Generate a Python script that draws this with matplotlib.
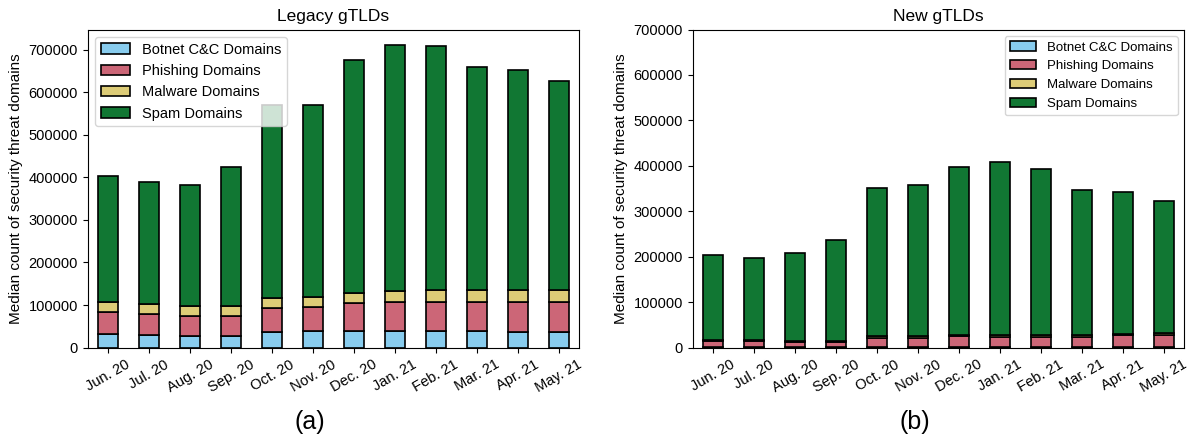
import numpy as np
import matplotlib.pyplot as plt

plt.rcParams['font.family'] = ['Liberation Sans', 'DejaVu Sans']

months = ['Jun. 20', 'Jul. 20', 'Aug. 20', 'Sep. 20', 'Oct. 20', 'Nov. 20',
          'Dec. 20', 'Jan. 21', 'Feb. 21', 'Mar. 21', 'Apr. 21', 'May. 21']
labels = ['Botnet C&C Domains', 'Phishing Domains', 'Malware Domains', 'Spam Domains']
colors = ['#88CCEE', '#CC6677', '#DDCC77', '#117733']

# Legacy gTLDs
legacy_botnet = [33000, 30000, 27500, 28000, 37500, 38500, 40000, 40000, 40000, 39000, 37500, 37500]
legacy_phishing = [51500, 50000, 47500, 47000, 56500, 57000, 65500, 68000, 68000, 68500, 70000, 70000]
legacy_malware = [23500, 23000, 23500, 23500, 23000, 23500, 24000, 25500, 27000, 27500, 27500, 27500]
legacy_total = [404000, 390000, 381000, 424000, 570000, 570000, 676000, 710000, 708000, 659000, 653000, 626000]

# New gTLDs
new_botnet = [1500, 1500, 1200, 1200, 1800, 1800, 2000, 2000, 2000, 2000, 2200, 2200]
new_phishing = [13000, 12500, 11500, 11500, 19500, 19500, 23000, 22500, 22500, 22500, 25000, 25000]
new_malware = [3000, 3000, 3000, 3000, 3500, 3500, 3500, 3500, 3500, 3500, 3500, 4000]
new_total = [203000, 198000, 208000, 236000, 352000, 359000, 398000, 409000, 394000, 346000, 343000, 323000]


def stacked(ax, botnet, phishing, malware, total):
    spam = np.array(total) - np.array(botnet) - np.array(phishing) - np.array(malware)
    x = np.arange(len(months))
    bottom = np.zeros(len(months))
    for vals, lab, col in zip([botnet, phishing, malware, spam], labels, colors):
        ax.bar(x, vals, 0.5, bottom=bottom, color=col, edgecolor='black',
               linewidth=1.2, label=lab)
        bottom += np.array(vals)
    ax.set_xlim(-0.5, len(months) - 0.5)
    ax.set_xticks(x)
    ax.set_xticklabels(months, rotation=30, fontsize=10.5)
    ax.tick_params(axis='y', labelsize=10.5)
    ax.set_yticks(np.arange(0, 700001, 100000))
    ax.set_ylabel('Median count of security threat domains', fontsize=11)


fig = plt.figure(figsize=(11.91, 4.45), dpi=100)
ax1 = fig.add_axes([0.0736, 0.2187, 0.4128, 0.715])
ax2 = fig.add_axes([0.5816, 0.2187, 0.4128, 0.715])

stacked(ax1, legacy_botnet, legacy_phishing, legacy_malware, legacy_total)
ax1.set_ylim(0, 747000)
ax1.set_title('Legacy gTLDs', fontsize=12.5)
ax1.legend(loc='upper left', fontsize=10.5)

stacked(ax2, new_botnet, new_phishing, new_malware, new_total)
ax2.set_ylim(0, 700000)
ax2.set_title('New gTLDs', fontsize=12.5)
ax2.legend(loc='upper right', fontsize=9.5)

fig.text(0.26, 0.035, '(a)', fontsize=18, ha='center')
fig.text(0.768, 0.035, '(b)', fontsize=18, ha='center')

fig.savefig('out.png', dpi=100)
